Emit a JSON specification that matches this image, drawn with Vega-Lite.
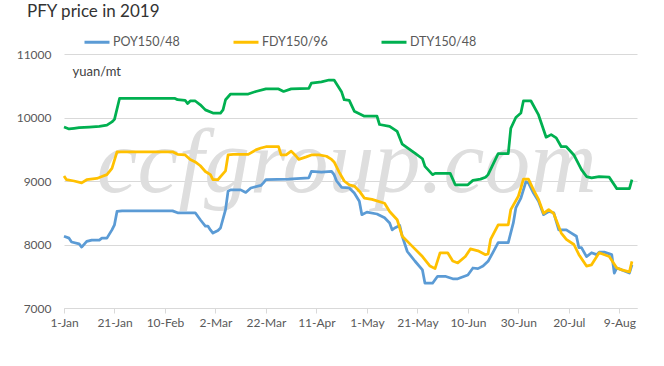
{
  "$schema": "https://vega.github.io/schema/vega-lite/v6.json",
  "width": 573,
  "height": 254,
  "autosize": {"type": "none"},
  "padding": {"left": 64, "top": 54, "right": 27, "bottom": 58},
  "background": "white",
  "title": {"text": "PFY price in 2019", "anchor": "start", "frame": "group", "dx": -37, "dy": 3, "fontSize": 17, "font": "Lato", "fontWeight": "normal", "color": "#333333", "offset": 10},
  "config": {
    "view": {"stroke": null},
    "font": "Lato",
    "axis": {"labelFont": "Lato", "labelFontSize": 12, "labelColor": "#595959", "gridColor": "#D9D9D9", "domainColor": "#D9D9D9", "tickColor": "#D9D9D9"},
    "axisX": {"grid": false, "tickSize": 5, "labelPadding": 4, "domain": true, "labelFlush": false},
    "axisY": {"domain": false, "ticks": false, "labelPadding": 13, "grid": true, "format": "d", "titleAngle": 0, "titleX": 8, "titleY": 17, "titleAlign": "left", "titleBaseline": "middle", "titleFont": "Lato", "titleFontSize": 13, "titleFontWeight": "normal", "titleColor": "#404040"}
  },
  "datasets": {
    "prices": [
      {"d": "2019-01-01", "s": "POY150/48", "v": 8130},
      {"d": "2019-01-03", "s": "POY150/48", "v": 8100},
      {"d": "2019-01-04", "s": "POY150/48", "v": 8040},
      {"d": "2019-01-07", "s": "POY150/48", "v": 8010},
      {"d": "2019-01-08", "s": "POY150/48", "v": 7960},
      {"d": "2019-01-10", "s": "POY150/48", "v": 8050},
      {"d": "2019-01-12", "s": "POY150/48", "v": 8070},
      {"d": "2019-01-15", "s": "POY150/48", "v": 8070},
      {"d": "2019-01-16", "s": "POY150/48", "v": 8100},
      {"d": "2019-01-18", "s": "POY150/48", "v": 8100},
      {"d": "2019-01-20", "s": "POY150/48", "v": 8230},
      {"d": "2019-01-21", "s": "POY150/48", "v": 8310},
      {"d": "2019-01-22", "s": "POY150/48", "v": 8520},
      {"d": "2019-01-24", "s": "POY150/48", "v": 8530},
      {"d": "2019-02-13", "s": "POY150/48", "v": 8530},
      {"d": "2019-02-15", "s": "POY150/48", "v": 8500},
      {"d": "2019-02-22", "s": "POY150/48", "v": 8500},
      {"d": "2019-02-24", "s": "POY150/48", "v": 8390},
      {"d": "2019-02-26", "s": "POY150/48", "v": 8290},
      {"d": "2019-02-27", "s": "POY150/48", "v": 8290},
      {"d": "2019-02-28", "s": "POY150/48", "v": 8230},
      {"d": "2019-03-01", "s": "POY150/48", "v": 8180},
      {"d": "2019-03-03", "s": "POY150/48", "v": 8220},
      {"d": "2019-03-04", "s": "POY150/48", "v": 8260},
      {"d": "2019-03-06", "s": "POY150/48", "v": 8550},
      {"d": "2019-03-07", "s": "POY150/48", "v": 8840},
      {"d": "2019-03-08", "s": "POY150/48", "v": 8860},
      {"d": "2019-03-12", "s": "POY150/48", "v": 8860},
      {"d": "2019-03-14", "s": "POY150/48", "v": 8820},
      {"d": "2019-03-16", "s": "POY150/48", "v": 8890},
      {"d": "2019-03-20", "s": "POY150/48", "v": 8930},
      {"d": "2019-03-21", "s": "POY150/48", "v": 8970},
      {"d": "2019-03-22", "s": "POY150/48", "v": 9020},
      {"d": "2019-03-31", "s": "POY150/48", "v": 9030},
      {"d": "2019-04-08", "s": "POY150/48", "v": 9050},
      {"d": "2019-04-09", "s": "POY150/48", "v": 9150},
      {"d": "2019-04-13", "s": "POY150/48", "v": 9140},
      {"d": "2019-04-17", "s": "POY150/48", "v": 9150},
      {"d": "2019-04-18", "s": "POY150/48", "v": 9100},
      {"d": "2019-04-19", "s": "POY150/48", "v": 9000},
      {"d": "2019-04-21", "s": "POY150/48", "v": 8900},
      {"d": "2019-04-24", "s": "POY150/48", "v": 8890},
      {"d": "2019-04-26", "s": "POY150/48", "v": 8810},
      {"d": "2019-04-28", "s": "POY150/48", "v": 8680},
      {"d": "2019-04-29", "s": "POY150/48", "v": 8470},
      {"d": "2019-05-01", "s": "POY150/48", "v": 8510},
      {"d": "2019-05-05", "s": "POY150/48", "v": 8480},
      {"d": "2019-05-08", "s": "POY150/48", "v": 8420},
      {"d": "2019-05-10", "s": "POY150/48", "v": 8340},
      {"d": "2019-05-11", "s": "POY150/48", "v": 8230},
      {"d": "2019-05-12", "s": "POY150/48", "v": 8260},
      {"d": "2019-05-14", "s": "POY150/48", "v": 8300},
      {"d": "2019-05-15", "s": "POY150/48", "v": 8130},
      {"d": "2019-05-17", "s": "POY150/48", "v": 7890},
      {"d": "2019-05-20", "s": "POY150/48", "v": 7740},
      {"d": "2019-05-23", "s": "POY150/48", "v": 7600},
      {"d": "2019-05-24", "s": "POY150/48", "v": 7390},
      {"d": "2019-05-27", "s": "POY150/48", "v": 7390},
      {"d": "2019-05-29", "s": "POY150/48", "v": 7500},
      {"d": "2019-06-01", "s": "POY150/48", "v": 7500},
      {"d": "2019-06-04", "s": "POY150/48", "v": 7460},
      {"d": "2019-06-06", "s": "POY150/48", "v": 7460},
      {"d": "2019-06-10", "s": "POY150/48", "v": 7520},
      {"d": "2019-06-12", "s": "POY150/48", "v": 7630},
      {"d": "2019-06-14", "s": "POY150/48", "v": 7620},
      {"d": "2019-06-16", "s": "POY150/48", "v": 7660},
      {"d": "2019-06-18", "s": "POY150/48", "v": 7735},
      {"d": "2019-06-20", "s": "POY150/48", "v": 7880},
      {"d": "2019-06-22", "s": "POY150/48", "v": 8030},
      {"d": "2019-06-26", "s": "POY150/48", "v": 8030},
      {"d": "2019-06-28", "s": "POY150/48", "v": 8340},
      {"d": "2019-06-29", "s": "POY150/48", "v": 8575},
      {"d": "2019-07-01", "s": "POY150/48", "v": 8730},
      {"d": "2019-07-03", "s": "POY150/48", "v": 8990},
      {"d": "2019-07-04", "s": "POY150/48", "v": 8970},
      {"d": "2019-07-06", "s": "POY150/48", "v": 8810},
      {"d": "2019-07-08", "s": "POY150/48", "v": 8680},
      {"d": "2019-07-10", "s": "POY150/48", "v": 8470},
      {"d": "2019-07-12", "s": "POY150/48", "v": 8520},
      {"d": "2019-07-14", "s": "POY150/48", "v": 8500},
      {"d": "2019-07-16", "s": "POY150/48", "v": 8230},
      {"d": "2019-07-19", "s": "POY150/48", "v": 8230},
      {"d": "2019-07-21", "s": "POY150/48", "v": 8180},
      {"d": "2019-07-23", "s": "POY150/48", "v": 8130},
      {"d": "2019-07-24", "s": "POY150/48", "v": 7950},
      {"d": "2019-07-25", "s": "POY150/48", "v": 7950},
      {"d": "2019-07-27", "s": "POY150/48", "v": 7810},
      {"d": "2019-07-29", "s": "POY150/48", "v": 7870},
      {"d": "2019-07-31", "s": "POY150/48", "v": 7840},
      {"d": "2019-08-01", "s": "POY150/48", "v": 7880},
      {"d": "2019-08-03", "s": "POY150/48", "v": 7880},
      {"d": "2019-08-06", "s": "POY150/48", "v": 7840},
      {"d": "2019-08-07", "s": "POY150/48", "v": 7550},
      {"d": "2019-08-08", "s": "POY150/48", "v": 7630},
      {"d": "2019-08-10", "s": "POY150/48", "v": 7600},
      {"d": "2019-08-13", "s": "POY150/48", "v": 7550},
      {"d": "2019-08-14", "s": "POY150/48", "v": 7680},
      {"d": "2019-01-01", "s": "FDY150/96", "v": 9080},
      {"d": "2019-01-02", "s": "FDY150/96", "v": 9020},
      {"d": "2019-01-05", "s": "FDY150/96", "v": 9000},
      {"d": "2019-01-08", "s": "FDY150/96", "v": 8970},
      {"d": "2019-01-10", "s": "FDY150/96", "v": 9020},
      {"d": "2019-01-14", "s": "FDY150/96", "v": 9040},
      {"d": "2019-01-16", "s": "FDY150/96", "v": 9070},
      {"d": "2019-01-18", "s": "FDY150/96", "v": 9100},
      {"d": "2019-01-20", "s": "FDY150/96", "v": 9200},
      {"d": "2019-01-22", "s": "FDY150/96", "v": 9460},
      {"d": "2019-02-13", "s": "FDY150/96", "v": 9460},
      {"d": "2019-02-15", "s": "FDY150/96", "v": 9420},
      {"d": "2019-02-18", "s": "FDY150/96", "v": 9410},
      {"d": "2019-02-20", "s": "FDY150/96", "v": 9340},
      {"d": "2019-02-22", "s": "FDY150/96", "v": 9300},
      {"d": "2019-02-24", "s": "FDY150/96", "v": 9240},
      {"d": "2019-02-26", "s": "FDY150/96", "v": 9150},
      {"d": "2019-02-28", "s": "FDY150/96", "v": 9100},
      {"d": "2019-03-01", "s": "FDY150/96", "v": 9020},
      {"d": "2019-03-03", "s": "FDY150/96", "v": 9020},
      {"d": "2019-03-04", "s": "FDY150/96", "v": 9070},
      {"d": "2019-03-06", "s": "FDY150/96", "v": 9160},
      {"d": "2019-03-07", "s": "FDY150/96", "v": 9410},
      {"d": "2019-03-09", "s": "FDY150/96", "v": 9420},
      {"d": "2019-03-15", "s": "FDY150/96", "v": 9420},
      {"d": "2019-03-18", "s": "FDY150/96", "v": 9490},
      {"d": "2019-03-20", "s": "FDY150/96", "v": 9520},
      {"d": "2019-03-22", "s": "FDY150/96", "v": 9540},
      {"d": "2019-03-27", "s": "FDY150/96", "v": 9540},
      {"d": "2019-03-28", "s": "FDY150/96", "v": 9410},
      {"d": "2019-03-30", "s": "FDY150/96", "v": 9410},
      {"d": "2019-04-01", "s": "FDY150/96", "v": 9470},
      {"d": "2019-04-03", "s": "FDY150/96", "v": 9390},
      {"d": "2019-04-04", "s": "FDY150/96", "v": 9340},
      {"d": "2019-04-07", "s": "FDY150/96", "v": 9380},
      {"d": "2019-04-09", "s": "FDY150/96", "v": 9410},
      {"d": "2019-04-12", "s": "FDY150/96", "v": 9410},
      {"d": "2019-04-15", "s": "FDY150/96", "v": 9390},
      {"d": "2019-04-17", "s": "FDY150/96", "v": 9340},
      {"d": "2019-04-18", "s": "FDY150/96", "v": 9300},
      {"d": "2019-04-20", "s": "FDY150/96", "v": 9140},
      {"d": "2019-04-22", "s": "FDY150/96", "v": 9000},
      {"d": "2019-04-24", "s": "FDY150/96", "v": 8940},
      {"d": "2019-04-26", "s": "FDY150/96", "v": 8920},
      {"d": "2019-04-28", "s": "FDY150/96", "v": 8840},
      {"d": "2019-04-30", "s": "FDY150/96", "v": 8730},
      {"d": "2019-05-03", "s": "FDY150/96", "v": 8710},
      {"d": "2019-05-08", "s": "FDY150/96", "v": 8650},
      {"d": "2019-05-10", "s": "FDY150/96", "v": 8520},
      {"d": "2019-05-13", "s": "FDY150/96", "v": 8390},
      {"d": "2019-05-15", "s": "FDY150/96", "v": 8130},
      {"d": "2019-05-19", "s": "FDY150/96", "v": 7970},
      {"d": "2019-05-23", "s": "FDY150/96", "v": 7810},
      {"d": "2019-05-26", "s": "FDY150/96", "v": 7660},
      {"d": "2019-05-28", "s": "FDY150/96", "v": 7620},
      {"d": "2019-05-30", "s": "FDY150/96", "v": 7870},
      {"d": "2019-06-02", "s": "FDY150/96", "v": 7870},
      {"d": "2019-06-04", "s": "FDY150/96", "v": 7740},
      {"d": "2019-06-06", "s": "FDY150/96", "v": 7710},
      {"d": "2019-06-09", "s": "FDY150/96", "v": 7810},
      {"d": "2019-06-11", "s": "FDY150/96", "v": 7930},
      {"d": "2019-06-14", "s": "FDY150/96", "v": 7900},
      {"d": "2019-06-17", "s": "FDY150/96", "v": 7840},
      {"d": "2019-06-18", "s": "FDY150/96", "v": 7850},
      {"d": "2019-06-19", "s": "FDY150/96", "v": 8080},
      {"d": "2019-06-22", "s": "FDY150/96", "v": 8310},
      {"d": "2019-06-26", "s": "FDY150/96", "v": 8310},
      {"d": "2019-06-27", "s": "FDY150/96", "v": 8550},
      {"d": "2019-06-30", "s": "FDY150/96", "v": 8760},
      {"d": "2019-07-01", "s": "FDY150/96", "v": 8890},
      {"d": "2019-07-02", "s": "FDY150/96", "v": 9030},
      {"d": "2019-07-04", "s": "FDY150/96", "v": 9030},
      {"d": "2019-07-06", "s": "FDY150/96", "v": 8860},
      {"d": "2019-07-08", "s": "FDY150/96", "v": 8710},
      {"d": "2019-07-10", "s": "FDY150/96", "v": 8490},
      {"d": "2019-07-12", "s": "FDY150/96", "v": 8550},
      {"d": "2019-07-14", "s": "FDY150/96", "v": 8490},
      {"d": "2019-07-17", "s": "FDY150/96", "v": 8180},
      {"d": "2019-07-19", "s": "FDY150/96", "v": 8080},
      {"d": "2019-07-22", "s": "FDY150/96", "v": 8000},
      {"d": "2019-07-24", "s": "FDY150/96", "v": 7840},
      {"d": "2019-07-27", "s": "FDY150/96", "v": 7660},
      {"d": "2019-07-29", "s": "FDY150/96", "v": 7680},
      {"d": "2019-08-01", "s": "FDY150/96", "v": 7870},
      {"d": "2019-08-05", "s": "FDY150/96", "v": 7810},
      {"d": "2019-08-08", "s": "FDY150/96", "v": 7630},
      {"d": "2019-08-10", "s": "FDY150/96", "v": 7600},
      {"d": "2019-08-13", "s": "FDY150/96", "v": 7570},
      {"d": "2019-08-14", "s": "FDY150/96", "v": 7735},
      {"d": "2019-01-01", "s": "DTY150/48", "v": 9850},
      {"d": "2019-01-03", "s": "DTY150/48", "v": 9820},
      {"d": "2019-01-05", "s": "DTY150/48", "v": 9830},
      {"d": "2019-01-07", "s": "DTY150/48", "v": 9840},
      {"d": "2019-01-11", "s": "DTY150/48", "v": 9850},
      {"d": "2019-01-15", "s": "DTY150/48", "v": 9860},
      {"d": "2019-01-18", "s": "DTY150/48", "v": 9880},
      {"d": "2019-01-20", "s": "DTY150/48", "v": 9930},
      {"d": "2019-01-21", "s": "DTY150/48", "v": 9970},
      {"d": "2019-01-23", "s": "DTY150/48", "v": 10300},
      {"d": "2019-02-14", "s": "DTY150/48", "v": 10300},
      {"d": "2019-02-15", "s": "DTY150/48", "v": 10280},
      {"d": "2019-02-18", "s": "DTY150/48", "v": 10270},
      {"d": "2019-02-19", "s": "DTY150/48", "v": 10220},
      {"d": "2019-02-20", "s": "DTY150/48", "v": 10260},
      {"d": "2019-02-22", "s": "DTY150/48", "v": 10260},
      {"d": "2019-02-24", "s": "DTY150/48", "v": 10200},
      {"d": "2019-02-26", "s": "DTY150/48", "v": 10120},
      {"d": "2019-03-01", "s": "DTY150/48", "v": 10070},
      {"d": "2019-03-04", "s": "DTY150/48", "v": 10070},
      {"d": "2019-03-05", "s": "DTY150/48", "v": 10120},
      {"d": "2019-03-06", "s": "DTY150/48", "v": 10280},
      {"d": "2019-03-08", "s": "DTY150/48", "v": 10370},
      {"d": "2019-03-15", "s": "DTY150/48", "v": 10370},
      {"d": "2019-03-18", "s": "DTY150/48", "v": 10410},
      {"d": "2019-03-22", "s": "DTY150/48", "v": 10450},
      {"d": "2019-03-27", "s": "DTY150/48", "v": 10450},
      {"d": "2019-03-29", "s": "DTY150/48", "v": 10410},
      {"d": "2019-04-01", "s": "DTY150/48", "v": 10450},
      {"d": "2019-04-08", "s": "DTY150/48", "v": 10460},
      {"d": "2019-04-09", "s": "DTY150/48", "v": 10540},
      {"d": "2019-04-13", "s": "DTY150/48", "v": 10560},
      {"d": "2019-04-16", "s": "DTY150/48", "v": 10590},
      {"d": "2019-04-18", "s": "DTY150/48", "v": 10590},
      {"d": "2019-04-21", "s": "DTY150/48", "v": 10400},
      {"d": "2019-04-22", "s": "DTY150/48", "v": 10280},
      {"d": "2019-04-24", "s": "DTY150/48", "v": 10270},
      {"d": "2019-04-26", "s": "DTY150/48", "v": 10100},
      {"d": "2019-04-30", "s": "DTY150/48", "v": 10020},
      {"d": "2019-05-05", "s": "DTY150/48", "v": 10020},
      {"d": "2019-05-06", "s": "DTY150/48", "v": 9890},
      {"d": "2019-05-10", "s": "DTY150/48", "v": 9860},
      {"d": "2019-05-13", "s": "DTY150/48", "v": 9780},
      {"d": "2019-05-15", "s": "DTY150/48", "v": 9580},
      {"d": "2019-05-20", "s": "DTY150/48", "v": 9440},
      {"d": "2019-05-23", "s": "DTY150/48", "v": 9350},
      {"d": "2019-05-24", "s": "DTY150/48", "v": 9230},
      {"d": "2019-05-27", "s": "DTY150/48", "v": 9100},
      {"d": "2019-05-28", "s": "DTY150/48", "v": 9120},
      {"d": "2019-06-03", "s": "DTY150/48", "v": 9120},
      {"d": "2019-06-05", "s": "DTY150/48", "v": 8940},
      {"d": "2019-06-10", "s": "DTY150/48", "v": 8940},
      {"d": "2019-06-12", "s": "DTY150/48", "v": 9010},
      {"d": "2019-06-15", "s": "DTY150/48", "v": 9030},
      {"d": "2019-06-17", "s": "DTY150/48", "v": 9060},
      {"d": "2019-06-18", "s": "DTY150/48", "v": 9100},
      {"d": "2019-06-22", "s": "DTY150/48", "v": 9430},
      {"d": "2019-06-26", "s": "DTY150/48", "v": 9430},
      {"d": "2019-06-27", "s": "DTY150/48", "v": 9830},
      {"d": "2019-06-29", "s": "DTY150/48", "v": 10000},
      {"d": "2019-07-01", "s": "DTY150/48", "v": 10070},
      {"d": "2019-07-02", "s": "DTY150/48", "v": 10260},
      {"d": "2019-07-05", "s": "DTY150/48", "v": 10260},
      {"d": "2019-07-08", "s": "DTY150/48", "v": 10040},
      {"d": "2019-07-11", "s": "DTY150/48", "v": 9690},
      {"d": "2019-07-13", "s": "DTY150/48", "v": 9730},
      {"d": "2019-07-15", "s": "DTY150/48", "v": 9680},
      {"d": "2019-07-17", "s": "DTY150/48", "v": 9540},
      {"d": "2019-07-19", "s": "DTY150/48", "v": 9540},
      {"d": "2019-07-22", "s": "DTY150/48", "v": 9410},
      {"d": "2019-07-25", "s": "DTY150/48", "v": 9180},
      {"d": "2019-07-27", "s": "DTY150/48", "v": 9070},
      {"d": "2019-07-29", "s": "DTY150/48", "v": 9050},
      {"d": "2019-08-01", "s": "DTY150/48", "v": 9070},
      {"d": "2019-08-05", "s": "DTY150/48", "v": 9060},
      {"d": "2019-08-08", "s": "DTY150/48", "v": 8880},
      {"d": "2019-08-13", "s": "DTY150/48", "v": 8880},
      {"d": "2019-08-14", "s": "DTY150/48", "v": 9020}
    ]
  },
  "layer": [
    {
      "data": {"values": [{}]},
      "mark": {"type": "text", "font": "Liberation Serif", "fontStyle": "italic", "fontSize": 92, "color": "#DEDEDE", "align": "center", "baseline": "alphabetic"},
      "encoding": {
        "x": {"datum": {"year": 2019, "month": 4, "date": 23, "utc": true}, "type": "temporal", "scale": {"type": "utc", "domain": [{"year": 2019, "month": 1, "date": 1, "utc": true}, {"year": 2019, "month": 8, "date": 16, "utc": true}]}, "axis": {"title": null}},
        "y": {"datum": 8830, "type": "quantitative", "scale": {"domain": [7000, 11000], "nice": false}, "axis": {"title": "yuan/mt"}},
        "text": {"value": "ccfgroup.com"}
      }
    },
    {
      "data": {"name": "prices"},
      "mark": {"type": "line", "strokeWidth": 2.75, "strokeJoin": "round"},
      "encoding": {
        "x": {"field": "d", "type": "temporal", "scale": {"type": "utc", "domain": [{"year": 2019, "month": 1, "date": 1, "utc": true}, {"year": 2019, "month": 8, "date": 16, "utc": true}]},
          "axis": {"title": null, "format": "%-d-%b", "values": [
            {"year": 2019, "month": 1, "date": 1, "utc": true},
            {"year": 2019, "month": 1, "date": 21, "utc": true},
            {"year": 2019, "month": 2, "date": 10, "utc": true},
            {"year": 2019, "month": 3, "date": 2, "utc": true},
            {"year": 2019, "month": 3, "date": 22, "utc": true},
            {"year": 2019, "month": 4, "date": 11, "utc": true},
            {"year": 2019, "month": 5, "date": 1, "utc": true},
            {"year": 2019, "month": 5, "date": 21, "utc": true},
            {"year": 2019, "month": 6, "date": 10, "utc": true},
            {"year": 2019, "month": 6, "date": 30, "utc": true},
            {"year": 2019, "month": 7, "date": 20, "utc": true},
            {"year": 2019, "month": 8, "date": 9, "utc": true}
          ]}},
        "y": {"field": "v", "type": "quantitative", "scale": {"domain": [7000, 11000], "nice": false}, "axis": {"title": "yuan/mt", "values": [7000, 7500, 8000, 8500, 9000, 9500, 10000, 10500, 11000]}},
        "color": {"field": "s", "type": "nominal",
          "scale": {"domain": ["POY150/48", "FDY150/96", "DTY150/48"], "range": ["#5B9BD5", "#FFC000", "#00B050"]},
          "legend": {"orient": "none", "legendX": 19, "legendY": -26, "direction": "horizontal", "title": null, "symbolType": "stroke", "symbolStrokeWidth": 3, "symbolSize": 625, "labelFont": "Lato", "labelFontSize": 12.5, "labelColor": "#595959", "columnPadding": 47, "labelOffset": 2}
        }
      }
    }
  ]
}
